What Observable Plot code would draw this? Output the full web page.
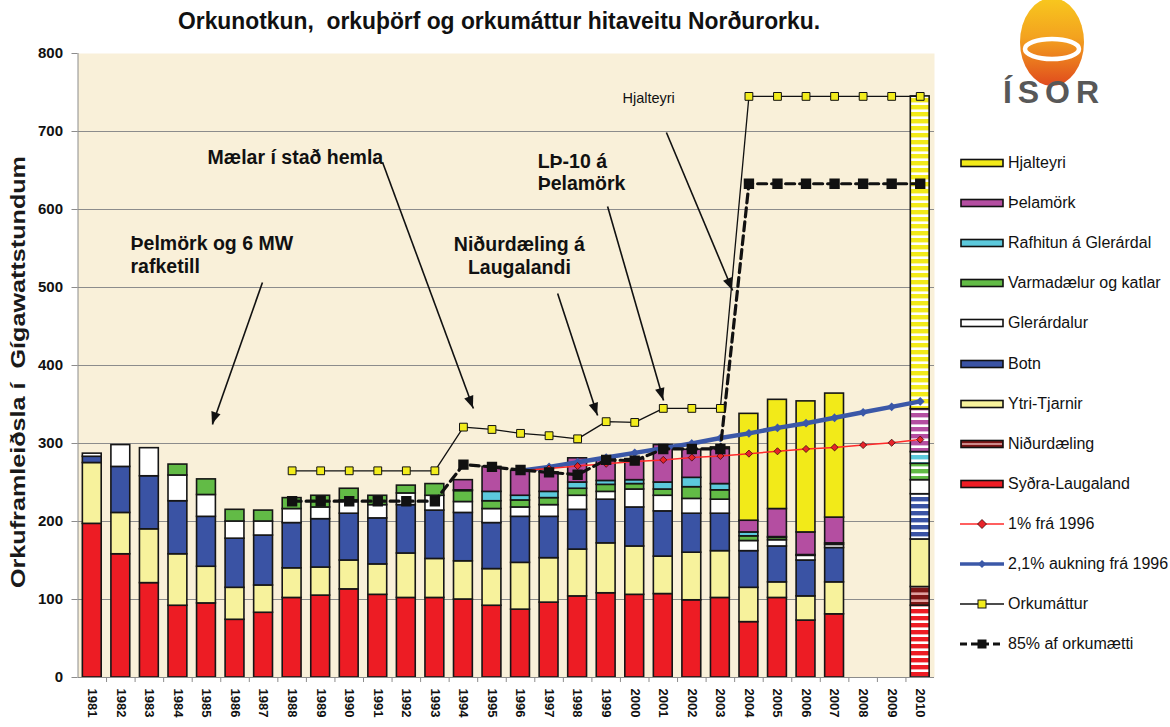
<!DOCTYPE html>
<html><head><meta charset="utf-8">
<script src="https://cdn.jsdelivr.net/npm/d3@7"></script>
<script src="https://cdn.jsdelivr.net/npm/@observablehq/plot@0.6"></script>
<style>
body{margin:0;background:#fff;font-family:"Liberation Sans",Arial,sans-serif;}
#wrap{position:relative;width:1170px;height:727px;overflow:hidden;background:#fff;}
#chart{position:absolute;left:0;top:0;}
#overlay{position:absolute;left:0;top:0;pointer-events:none;}
#legend{position:absolute;left:960px;top:0;width:210px;height:727px;}
.li{position:absolute;left:0;height:18px;display:flex;align-items:center;white-space:nowrap;font-size:16px;color:#111;}
.li svg{margin-right:4px;flex:none}
</style></head><body>
<div id="wrap"><div id="chart"></div><svg id="overlay" width="1170" height="727"></svg><div id="legend"></div></div>
<script>
// ---------- data ----------
const years = [1981,1982,1983,1984,1985,1986,1987,1988,1989,1990,1991,1992,1993,1994,1995,1996,1997,1998,1999,2000,2001,2002,2003,2004,2005,2006,2007,2008,2009,2010];
const sydraLaugaland = [197,158,121,92,95,74,83,102,105,113,106,102,102,100,92,87,96,104,108,106,107,99,102,71,102,73,81,0,0,92];
const nidurdaeling   = [0,0,0,0,0,0,0,0,0,0,0,0,0,0,0,0,0,0,0,0,0,0,0,0,0,0,0,0,0,24];
const ytriTjarnir    = [78,53,69,66,47,41,35,38,36,37,39,57,50,49,47,60,57,60,64,62,48,61,60,44,20,31,41,0,0,61];
const botn           = [8,59,68,68,64,63,64,58,62,60,59,62,62,62,59,59,53,51,56,50,58,50,48,47,46,46,44,0,0,58];
const glerardalur    = [4,28,36,33,28,22,18,18,15,17,17,15,19,14,18,12,15,18,10,23,20,19,18,13,8,6,4,0,0,18];
const varmadaelur    = [0,0,0,14,20,15,14,14,15,15,12,10,15,14,10,9,9,9,9,7,8,15,12,6,3,1,2,0,0,21];
const rafhitun       = [0,0,0,0,0,0,0,0,0,0,0,0,0,1,12,6,8,8,5,5,9,12,8,5,1,0,0,0,0,15];
const pelamork       = [0,0,0,0,0,0,0,0,0,0,0,0,0,13,32,32,25,31,29,27,48,36,45,15,36,29,33,0,0,55];
const hjalteyri      = [0,0,0,0,0,0,0,0,0,0,0,0,0,0,0,0,0,0,0,0,0,0,2,137,140,168,159,0,0,401];

const stackNames  = ["Syðra-Laugaland","Niðurdæling","Ytri-Tjarnir","Botn","Glerárdalur","Varmadælur og katlar","Rafhitun á Glerárdal","Þelamörk","Hjalteyri"];
const stackValues = [sydraLaugaland,nidurdaeling,ytriTjarnir,botn,glerardalur,varmadaelur,rafhitun,pelamork,hjalteyri];
const stackColors = ["#ed1c24","#7d1515","#f7f29c","#3a53a4","#ffffff","#62bb46","#5cc9dc","#b44ea1","#f2ea19"];
const stripeColors = ["#ffffff","#e0a0a0",null,"#ffffff",null,"#ffffff","#ffffff","#ffffff","#ffffff"];
const forecastYear = 2010;

const orkumatturYears = [1988,1989,1990,1991,1992,1993,1994,1995,1996,1997,1998,1999,2000,2001,2002,2003,2004,2005,2006,2007,2008,2009,2010];
const orkumattur      = [265,265,265,265,265,265,321,318,313,310,306,328,327,345,345,345,745,745,745,745,745,745,745];
const afOrkumaetti85  = [226,226,226,226,226,226,273,270,266,263,260,279,278,293,293,293,633,633,633,633,633,633,633];

const growthYears = [1996,1997,1998,1999,2000,2001,2002,2003,2004,2005,2006,2007,2008,2009,2010];
const growth1pct  = [265,268,271,274,277,279,282,284,287,290,293,295,298,301,305];
const growth21pct = [265,270,276,282,288,294,300,307,313,320,326,333,340,347,354];

const yTicks = [0,100,200,300,400,500,600,700,800];
const gridTicks = [100,200,300,400,500,600,700];

// annotations (data coordinates: x in years, y in GWh)
const notesLeft = [
  {text:"Þelmörk og 6 MW", x:1982.34, y:548.7},
  {text:"rafketill", x:1982.34, y:519.2},
  {text:"Mælar í stað hemla", x:1985.04, y:657.7},
  {text:"LÞ-10 á", x:1996.6, y:653.8},
  {text:"Þelamörk", x:1996.6, y:625.6}
];
const notesCenter = [
  {text:"Niðurdæling á", x:1995.96, y:546.2},
  {text:"Laugalandi", x:1995.96, y:517.9}
];
const notesSmall = [{text:"Hjalteyri", x:1999.57, y:735.9}];
const arrows = [
  {x1:1986.96, y1:506.4, x2:1985.21, y2:324.4},
  {x1:1991.17, y1:660.3, x2:1994.35, y2:344.9},
  {x1:1997.30, y1:492.3, x2:1998.70, y2:335.9},
  {x1:1999.05, y1:603.8, x2:2001.01, y2:355.1},
  {x1:2001.11, y1:698.7, x2:2003.43, y2:496.2}
];

// ---------- build tables ----------
const segs = [];
years.forEach((yr, i) => {
  let acc = 0;
  stackValues.forEach((vals, s) => {
    const v = vals[i];
    if (v > 0) {
      const striped = yr === forecastYear && stripeColors[s];
      segs.push({year: yr, y1: acc, y2: acc + v, fill: striped ? `url(#stripe${s})` : stackColors[s]});
    }
    acc += v;
  });
});
const orkuRows = orkumatturYears.map((y, i) => ({year: y, v: orkumattur[i]}));
const pct85Rows = orkumatturYears.map((y, i) => ({year: y, v: afOrkumaetti85[i]}));
const g1Rows = growthYears.map((y, i) => ({year: y, v: growth1pct[i]}));
const g21Rows = growthYears.map((y, i) => ({year: y, v: growth21pct[i]}));
const boundaries = years.slice(0, -1).map(y => y + 0.5);

const NS = "http://www.w3.org/2000/svg";
// filled arrow heads drawn through the plot's own scales
function arrowHeads(index, scales) {
  const g = document.createElementNS(NS, "g");
  if (!scales || typeof scales.x !== "function") return g;
  arrows.forEach(a => {
    const x1 = scales.x(a.x1), y1 = scales.y(a.y1), x2 = scales.x(a.x2), y2 = scales.y(a.y2);
    const ang = Math.atan2(y2 - y1, x2 - x1), L = 12, w = 4.8;
    const bx = x2 - L * Math.cos(ang), by = y2 - L * Math.sin(ang);
    const px = -Math.sin(ang) * w, py = Math.cos(ang) * w;
    const p = document.createElementNS(NS, "path");
    p.setAttribute("d", `M${x2},${y2}L${bx + px},${by + py}L${bx - px},${by - py}Z`);
    p.setAttribute("fill", "#111");
    g.appendChild(p);
  });
  return g;
}

const plot = Plot.plot({
  width: 1170, height: 727,
  marginLeft: 77.5, marginRight: 236, marginTop: 53, marginBottom: 50,
  style: {fontFamily: "Liberation Sans, Arial, sans-serif", background: "transparent", overflow: "visible"},
  x: {type: "linear", domain: [1980.5, 2010.5]},
  y: {domain: [0, 800]},
  color: {type: "identity"},
  marks: [
    Plot.frame({fill: "#f9f0d9", stroke: null}),
    Plot.gridY({ticks: gridTicks, stroke: "#8c8c8c", strokeOpacity: 1, strokeWidth: 1}),
    Plot.rect(segs, {x1: d => d.year - 0.33, x2: d => d.year + 0.33, y1: "y1", y2: "y2", fill: "fill", stroke: "#161616", strokeWidth: 1.6}),
    Plot.ruleX([1980.5], {stroke: "#8c8c8c"}),
    Plot.ruleY([0], {stroke: "#8c8c8c"}),
    Plot.axisY({ticks: yTicks, tickSize: 6, tickPadding: 9, fontWeight: "bold", fontSize: 15, fill: "#111", stroke: "#8c8c8c", label: null}),
    Plot.axisX({ticks: boundaries, tickSize: 5, tickFormat: () => "", stroke: "#8c8c8c", label: null}),
    Plot.axisX({ticks: years, tickSize: 0, tickPadding: 11, tickRotate: 90, tickFormat: d => String(d), fontWeight: "bold", fontSize: 13, fill: "#111", label: null}),
    Plot.line(orkuRows, {x: "year", y: "v", stroke: "#111", strokeWidth: 1.3}),
    Plot.line(g21Rows, {x: "year", y: "v", stroke: "#3b58a8", strokeWidth: 4.5}),
    Plot.dot(g21Rows, {x: "year", y: "v", symbol: "diamond2", r: 3, fill: "#3b58a8", stroke: "#3b58a8"}),
    Plot.line(g1Rows, {x: "year", y: "v", stroke: "#ff2a2a", strokeWidth: 1.5}),
    Plot.dot(g1Rows, {x: "year", y: "v", symbol: "diamond2", r: 3.2, fill: "#e8232a", stroke: "#3a0a0a", strokeWidth: 0.8}),
    Plot.line(pct85Rows, {x: "year", y: "v", stroke: "#111", strokeWidth: 3.2, strokeDasharray: "9,5"}),
    Plot.dot(pct85Rows, {x: "year", y: "v", symbol: "square", r: 5, fill: "#111", stroke: "#111"}),
    Plot.dot(orkuRows, {x: "year", y: "v", symbol: "square", r: 4.4, fill: "#f2ec1c", stroke: "#111", strokeWidth: 1}),
    Plot.text(notesLeft, {x: "x", y: "y", text: "text", textAnchor: "start", lineAnchor: "bottom", fontSize: 19.5, fontWeight: "bold", fill: "#111"}),
    Plot.text(notesCenter, {x: "x", y: "y", text: "text", textAnchor: "middle", lineAnchor: "bottom", fontSize: 19.5, fontWeight: "bold", fill: "#111"}),
    Plot.text(notesSmall, {x: "x", y: "y", text: "text", textAnchor: "start", lineAnchor: "bottom", fontSize: 14.5, fill: "#111"}),
    Plot.link(arrows, {x1: "x1", y1: "y1", x2: "x2", y2: "y2", stroke: "#111", strokeWidth: 1.6}),
    arrowHeads
  ]
});
document.getElementById("chart").appendChild(plot);

// stripe patterns for the forecast bar
const svgEl = plot.tagName.toLowerCase() === "svg" ? plot : plot.querySelector("svg");
const defs = document.createElementNS(NS, "defs");
stackColors.forEach((c, s) => {
  if (!stripeColors[s]) return;
  const p = document.createElementNS(NS, "pattern");
  p.setAttribute("id", "stripe" + s);
  p.setAttribute("patternUnits", "userSpaceOnUse");
  p.setAttribute("width", "10"); p.setAttribute("height", "7");
  const a = document.createElementNS(NS, "rect");
  a.setAttribute("width", "10"); a.setAttribute("height", "7"); a.setAttribute("fill", c);
  const b = document.createElementNS(NS, "rect");
  b.setAttribute("y", "4.4"); b.setAttribute("width", "10"); b.setAttribute("height", "2.6"); b.setAttribute("fill", stripeColors[s]);
  p.appendChild(a); p.appendChild(b); defs.appendChild(p);
});
svgEl.insertBefore(defs, svgEl.firstChild);

// ---------- overlay: title, y label, logo ----------
document.getElementById("overlay").innerHTML = `
  <defs>
    <linearGradient id="egg" x1="0" y1="0" x2="0" y2="1">
      <stop offset="0" stop-color="#f8c81e"/>
      <stop offset="0.45" stop-color="#f3a21f"/>
      <stop offset="1" stop-color="#e04a1d"/>
    </linearGradient>
  </defs>
  <text x="499" y="29" text-anchor="middle" font-family="Liberation Sans Narrow, Liberation Sans, Arial, sans-serif" font-weight="bold" font-size="24" fill="#111" textLength="642" lengthAdjust="spacingAndGlyphs" xml:space="preserve">Orkunotkun,  orkuþörf og orkumáttur hitaveitu Norðurorku.</text>
  <text transform="translate(25,372) rotate(-90)" text-anchor="middle" font-family="Liberation Sans, Arial, sans-serif" font-weight="bold" font-size="21" fill="#1a1a1a" textLength="432" lengthAdjust="spacingAndGlyphs" xml:space="preserve">Orkuframleiðsla í  Gígawattstundum</text>
  <ellipse cx="1052" cy="42" rx="32" ry="44" fill="url(#egg)"/>
  <ellipse cx="1052" cy="49" rx="27" ry="10" fill="none" stroke="#fff" stroke-width="4.5"/>
  <text x="1054" y="103" text-anchor="middle" font-family="Liberation Sans, Arial, sans-serif" font-weight="bold" font-size="32" fill="#585858" letter-spacing="6">ÍSOR</text>
`;

// ---------- legend ----------
const legendItems = [
  {label:"Hjalteyri", kind:"bar", color:stackColors[8]},
  {label:"Þelamörk", kind:"bar", color:stackColors[7]},
  {label:"Rafhitun á Glerárdal", kind:"bar", color:stackColors[6]},
  {label:"Varmadælur og katlar", kind:"bar", color:stackColors[5]},
  {label:"Glerárdalur", kind:"bar", color:stackColors[4]},
  {label:"Botn", kind:"bar", color:stackColors[3]},
  {label:"Ytri-Tjarnir", kind:"bar", color:stackColors[2]},
  {label:"Niðurdæling", kind:"barStripe", color:stackColors[1]},
  {label:"Syðra-Laugaland", kind:"bar", color:stackColors[0]},
  {label:"1% frá 1996", kind:"red"},
  {label:"2,1% aukning frá 1996", kind:"blue"},
  {label:"Orkumáttur", kind:"orku"},
  {label:"85% af orkumætti", kind:"dash"}
];
function swatch(it) {
  let s = '<svg width="44" height="16" viewBox="0 0 44 16">';
  if (it.kind === "bar") s += `<rect x="1" y="4.5" width="42" height="7" fill="${it.color}" stroke="#111" stroke-width="1.6"/>`;
  if (it.kind === "barStripe") s += `<rect x="1" y="4.5" width="42" height="7" fill="${it.color}" stroke="#111" stroke-width="1.6"/><line x1="2" x2="42" y1="8" y2="8" stroke="#e6b0b0" stroke-width="1.3"/>`;
  if (it.kind === "red") s += `<line x1="0" x2="44" y1="8" y2="8" stroke="#ff2a2a" stroke-width="1.5"/><path d="M22 3.5 L26.5 8 L22 12.5 L17.5 8Z" fill="#e8232a" stroke="#3a0a0a" stroke-width="0.8"/>`;
  if (it.kind === "blue") s += `<line x1="0" x2="44" y1="8" y2="8" stroke="#3b58a8" stroke-width="3.5"/><path d="M22 4 L26 8 L22 12 L18 8Z" fill="#3b58a8"/>`;
  if (it.kind === "orku") s += `<line x1="0" x2="44" y1="8" y2="8" stroke="#111" stroke-width="1.3"/><rect x="18" y="4" width="8" height="8" fill="#f2ec1c" stroke="#111"/>`;
  if (it.kind === "dash") s += `<line x1="0" x2="44" y1="8" y2="8" stroke="#111" stroke-width="3" stroke-dasharray="7,4"/><rect x="17.5" y="3.5" width="9" height="9" fill="#111"/>`;
  return s + '</svg>';
}
const leg = document.getElementById("legend");
legendItems.forEach((it, i) => {
  const d = document.createElement("div");
  d.className = "li";
  d.style.top = (163 - 9 + i * 40.1) + "px";
  d.innerHTML = swatch(it) + `<span>${it.label}</span>`;
  leg.appendChild(d);
});
</script></body></html>
